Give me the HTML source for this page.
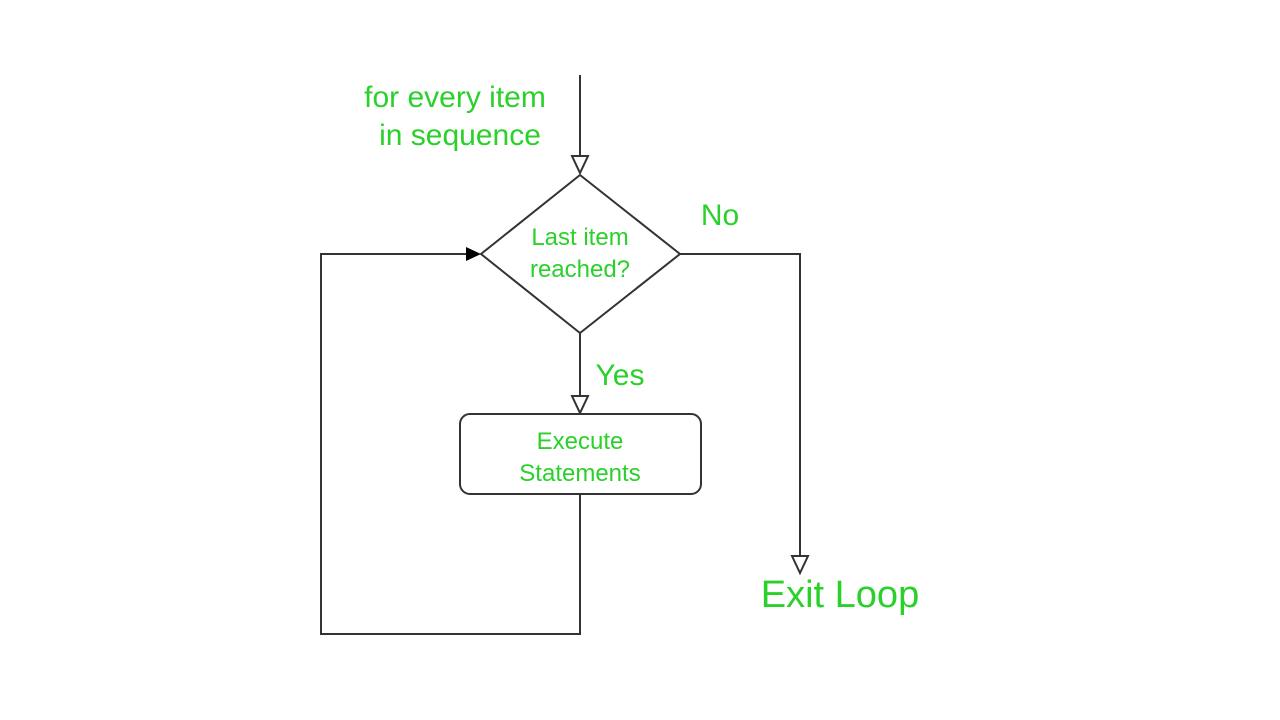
<!DOCTYPE html>
<html><head><style>body{margin:0;background:#fff}svg{display:block}text{font-family:"Liberation Sans",Arial,sans-serif;fill:#2ad12a}</style></head>
<body>
<svg width="1280" height="720" viewBox="0 0 1280 720">
<g stroke="#333" stroke-width="2" fill="none">
<line x1="580" y1="75" x2="580" y2="156"/>
<polygon points="572,156 588,156 580,173" fill="#fff"/>
<polygon points="580,175 680,254 580,333 481,254" fill="#fff"/>
<line x1="580" y1="333" x2="580" y2="396"/>
<polygon points="572,396 588,396 580,413" fill="#fff"/>
<rect x="460" y="414" width="241" height="80" rx="10" fill="#fff"/>
<polyline points="580,494 580,634 321,634 321,254 466,254"/>
<polyline points="680,254 800,254 800,556"/>
<polygon points="792,556 808,556 800,573" fill="#fff"/>
</g>
<polygon points="466,247 481,254 466,261" fill="#000"/>
<g font-size="30" text-anchor="middle">
<text x="455" y="107">for every item</text>
<text x="460" y="145">in sequence</text>
</g>
<text x="720" y="225" font-size="30" text-anchor="middle">No</text>
<text x="620" y="385" font-size="30" text-anchor="middle">Yes</text>
<g font-size="24" text-anchor="middle">
<text x="580" y="245">Last item</text>
<text x="580" y="277">reached?</text>
<text x="580" y="449">Execute</text>
<text x="580" y="481">Statements</text>
</g>
<text x="840" y="607" font-size="38" text-anchor="middle">Exit Loop</text>
</svg>
</body></html>
